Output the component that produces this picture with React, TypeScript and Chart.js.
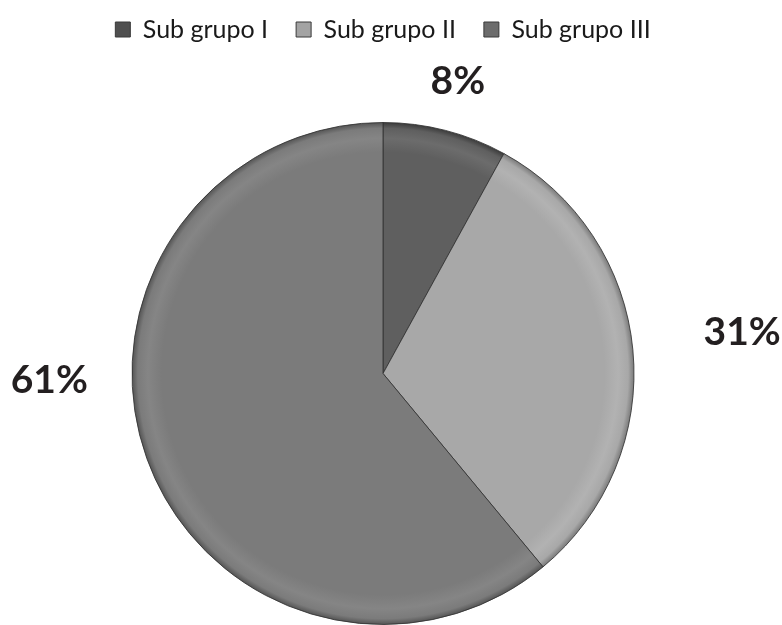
import React, { useEffect, useRef } from "react";
import { Chart, registerables } from "chart.js";

Chart.register(...registerables);

const categories = ["Sub grupo I", "Sub grupo II", "Sub grupo III"];
const values = [8, 31, 61];
const sliceColors = ["#5f5f5f", "#a8a8a8", "#7b7b7b"];
const sliceLightColors = ["#6c6c6c", "#b2b2b2", "#858585"];
const rimColors = ["#383838", "#767676", "#515151"];
const legendColors = ["#4f4f4f", "#a3a3a3", "#6c6c6c"];
const labelDistance = [1.2, 1.44, 1.33];
const labelAngleShift = [0, -1.1, 18.6];

const LEGEND_HEIGHT = 133;

const legendHeightPlugin = {
  id: "legendHeight",
  beforeLayout(chart: any) {
    const legend = chart.legend;
    if (legend && !legend.__patched) {
      const origFit = legend.fit;
      legend.fit = function () {
        origFit.call(this);
        this.height = LEGEND_HEIGHT;
      };
      legend.__patched = true;
    }
  },
};

const valueLabelPlugin = {
  id: "valueLabels",
  afterDraw(chart: any) {
    const meta = chart.getDatasetMeta(0);
    const ctx = chart.ctx;
    ctx.save();
    ctx.font = "bold 39px Lato";
    ctx.fillStyle = "#231f20";
    ctx.textAlign = "center";
    ctx.textBaseline = "middle";
    meta.data.forEach((arc: any, i: number) => {
      const { x, y, startAngle, endAngle, outerRadius } = arc.getProps(
        ["x", "y", "startAngle", "endAngle", "outerRadius"],
        true
      );
      const mid = (startAngle + endAngle) / 2 + (labelAngleShift[i] * Math.PI) / 180;
      const d = outerRadius * labelDistance[i];
      ctx.fillText(`${values[i]}%`, x + Math.cos(mid) * d, y + Math.sin(mid) * d);
    });
    ctx.restore();
  },
};

function sliceFill(ctx: any) {
  const i = ctx.dataIndex;
  const chart = ctx.chart;
  const area = chart.chartArea;
  if (!area) return sliceColors[i];
  const cx = (area.left + area.right) / 2;
  const cy = (area.top + area.bottom) / 2;
  const r = Math.min(area.right - area.left, area.bottom - area.top) / 2;
  const g = chart.ctx.createRadialGradient(cx, cy, 0, cx, cy, r);
  g.addColorStop(0, sliceColors[i]);
  g.addColorStop(0.88, sliceColors[i]);
  g.addColorStop(0.935, sliceLightColors[i]);
  g.addColorStop(0.975, sliceColors[i]);
  g.addColorStop(1, rimColors[i]);
  return g;
}

export default function App() {
  const canvasRef = useRef<HTMLCanvasElement | null>(null);

  useEffect(() => {
    document.body.style.margin = "0";
    const canvas = canvasRef.current;
    if (!canvas) return;
    const chart = new Chart(canvas, {
      type: "pie",
      data: {
        labels: categories,
        datasets: [
          {
            data: values,
            backgroundColor: sliceFill as any,
            borderColor: "rgba(50,50,50,0.85)",
            borderWidth: 1,
          },
        ],
      },
      options: {
        responsive: false,
        animation: false,
        layout: { padding: { top: -11, left: 0, right: 16, bottom: -3 } },
        plugins: {
          tooltip: { enabled: false },
          legend: {
            position: "top",
            labels: {
              boxWidth: 15,
              boxHeight: 15,
              padding: 28,
              color: "#1a1a1a",
              font: { family: "Lato", size: 25 },
              generateLabels: () =>
                categories.map((c, i) => ({
                  text: c,
                  fillStyle: legendColors[i],
                  strokeStyle: "#3a3a3a",
                  lineWidth: 1,
                  hidden: false,
                  index: i,
                  fontColor: "#1a1a1a",
                })),
            },
          },
        },
      },
      plugins: [legendHeightPlugin, valueLabelPlugin],
    });
    return () => chart.destroy();
  }, []);

  return (
    <div style={{ width: 782, height: 625, background: "#ffffff" }}>
      <canvas ref={canvasRef} width={782} height={625} />
    </div>
  );
}
